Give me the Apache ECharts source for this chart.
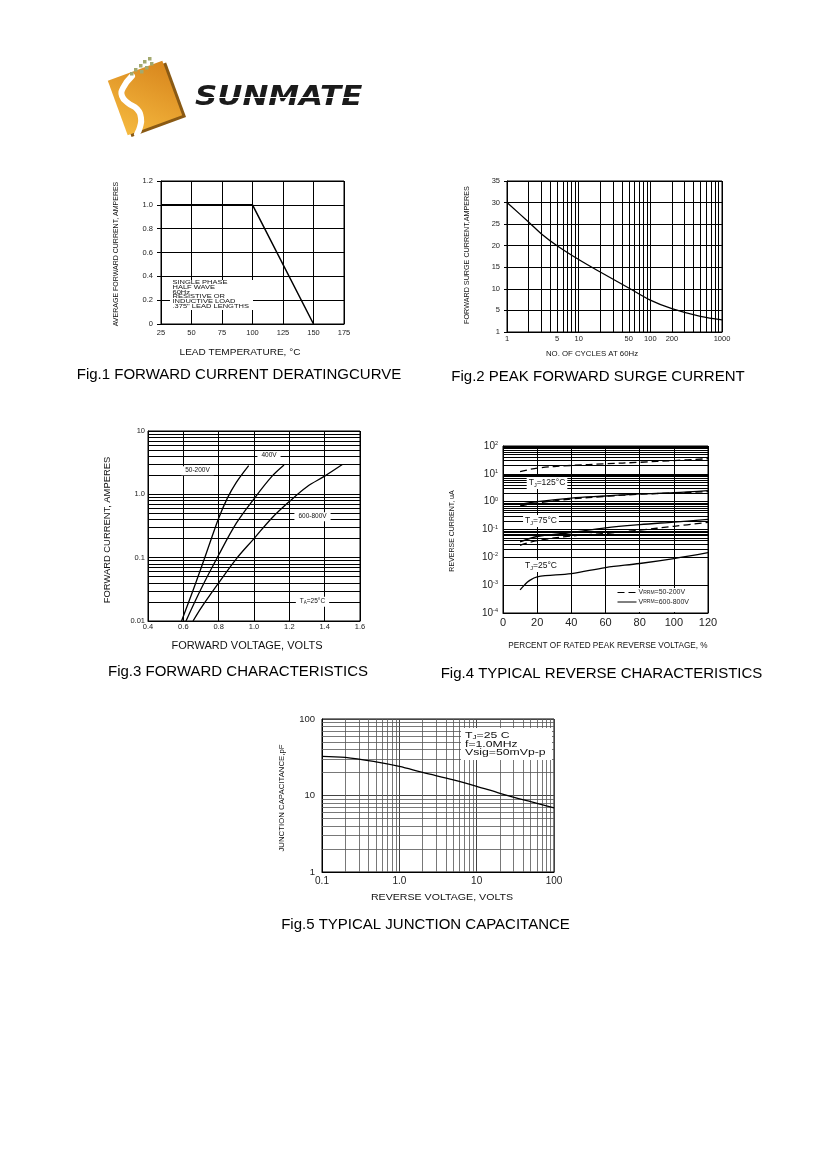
<!DOCTYPE html>
<html>
<head>
<meta charset="utf-8">
<title>Rectifier characteristic curves</title>
<script src="https://cdn.jsdelivr.net/npm/echarts@6.0.0/dist/echarts.min.js"></script>
<style>
html,body{margin:0;padding:0;background:#fff;}
#chart{width:826px;height:1169px;}
</style>
</head>
<body>
<div id="chart"></div>
<script>
// ---------------- data ----------------
// Fig.1 forward current derating
const fig1Temp = [25, 100, 150];
const fig1Current = [1.0, 1.0, 0.0];

// Fig.2 peak forward surge current
const fig2Cycles = [1, 2, 3, 5, 10, 20, 50, 100, 200, 500, 1000];
const fig2Surge = [30, 25.5, 22.8, 20, 16.8, 13.9, 10.2, 7.4, 5.4, 3.6, 2.8];
const fig2XLabels = [1, 5, 10, 50, 100, 200, 1000];

// Fig.3 forward characteristics
const fig3V_50_200 = [0.59, 0.65, 0.70, 0.75, 0.80, 0.85, 0.90, 0.97];
const fig3I_50_200 = [0.01, 0.028, 0.068, 0.17, 0.42, 0.88, 1.55, 2.85];
const fig3V_400 = [0.615, 0.70, 0.80, 0.90, 1.00, 1.10, 1.17];
const fig3I_400 = [0.01, 0.032, 0.11, 0.35, 0.85, 1.9, 2.9];
const fig3V_600_800 = [0.655, 0.70, 0.80, 0.90, 1.00, 1.10, 1.20, 1.30, 1.40, 1.50];
const fig3I_600_800 = [0.01, 0.016, 0.04, 0.096, 0.2, 0.42, 0.77, 1.32, 1.94, 2.95];

// Fig.4 typical reverse characteristics (uA)
const fig4Pct = [10, 20, 40, 60, 80, 100, 120];
const fig4Pct25 = [10, 12.5, 15, 20, 40, 60, 80, 100, 120];
const fig4_125C_50_200 = [12, 16, 20, 23, 26, 30, 35];
const fig4_125C_600_800 = [0.8, 1.0, 1.35, 1.6, 1.9, 2.1, 2.5];
const fig4_75C_50_200 = [0.7, 0.9, 1.25, 1.55, 1.85, 2.05, 2.3];
const fig4_75C_600_800 = [0.036, 0.056, 0.078, 0.115, 0.15, 0.185, 0.23];
const fig4_25C_50_200 = [0.027, 0.04, 0.058, 0.072, 0.095, 0.13, 0.18];
const fig4_25C_600_800 = [0.00068, 0.001, 0.0014, 0.002, 0.0026, 0.0043, 0.006, 0.009, 0.0147];

// Fig.5 typical junction capacitance
const fig5Volts = [0.1, 0.2, 0.5, 1, 2, 5, 10, 20, 50, 100];
const fig5Cap = [32.5, 31.5, 27.5, 24, 20, 16, 13.2, 10.7, 8.3, 6.9];

// log-paper minor grid mantissas
const logMinorMantissas = [2, 3, 4, 5, 6, 7, 8, 9];

// ---------------- helpers ----------------
const FONT = '"Liberation Sans", Arial, sans-serif';
const pair = (xs, ys) => xs.map((x, i) => [x, ys[i]]);

function minorLogValues(fromExp, toExp) {
  const out = [];
  for (let e = fromExp; e < toExp; e++) {
    logMinorMantissas.forEach(m => out.push(+(m * Math.pow(10, e)).toPrecision(6)));
  }
  return out;
}

function gridLines(xs, ys, color, width) {
  return {
    silent: true, symbol: ['none', 'none'], animation: false, z: 1,
    label: { show: false }, emphasis: { disabled: true },
    lineStyle: { color: color, width: width, type: 'solid' },
    data: [].concat(xs.map(v => ({ xAxis: v })), ys.map(v => ({ yAxis: v })))
  };
}

function gridBox(left, top, width, height) {
  return { left, top, width, height, show: true, borderColor: '#000', borderWidth: 1,
    backgroundColor: 'rgba(0,0,0,0)', containLabel: false, outerBoundsMode: 'none' };
}

function axis(gridIndex, type, extra, label, splitColor) {
  const a = {
    gridIndex, type,
    axisLine: { show: true, onZero: false, lineStyle: { color: '#000', width: 1 } },
    axisTick: { show: false },
    splitLine: { show: true, lineStyle: { color: splitColor || '#000', width: 1 } },
    axisLabel: Object.assign({ color: '#222', fontFamily: FONT, fontSize: 7.5, margin: 4,
      showMinLabel: true, showMaxLabel: true, hideOverlap: false }, label || {})
  };
  return Object.assign(a, extra || {});
}

function curve(gi, data, o) {
  o = o || {};
  const s = {
    type: 'line', xAxisIndex: gi, yAxisIndex: gi, data, symbol: 'none', showSymbol: false,
    smooth: o.smooth === undefined ? 0.35 : o.smooth, silent: true, z: 3,
    itemStyle: { color: '#000' },
    lineStyle: { color: '#000', width: o.width || 1.3, type: o.dash || 'solid' },
    emphasis: { disabled: true }
  };
  if (o.name) s.name = o.name;
  if (o.markLine) s.markLine = o.markLine;
  return s;
}

function txt(x, y, text, size, o) {
  o = o || {};
  const style = { text, fill: o.color || '#111', fontSize: size, fontFamily: o.font || FONT,
    fontWeight: o.weight || 'normal', fontStyle: o.fstyle || 'normal',
    align: o.align || 'center', verticalAlign: o.valign || 'middle' };
  if (o.lh) style.lineHeight = o.lh;
  if (o.rich) style.rich = o.rich;
  if (o.bg) { style.backgroundColor = o.bg; style.padding = o.pad || [0, 2]; }
  return { type: 'text', x, y, rotation: o.rot || 0, scaleX: o.sx || 1, scaleY: 1,
    z: o.z || 10, silent: true, style };
}

// rich styles: t = normal run, s = subscript run
const richTS = (size, subSize, lh) => ({
  t: { fontSize: size, fontFamily: FONT, fill: '#111', lineHeight: lh },
  s: { fontSize: subSize, fontFamily: FONT, fill: '#111', verticalAlign: 'bottom', lineHeight: lh }
});
const ROT = Math.PI / 2;

// ---------------- chart ----------------
const chart = echarts.init(document.getElementById('chart'), null, { width: 826, height: 1169 });

const option = {
  animation: false,
  backgroundColor: '#fff',
  textStyle: { fontFamily: FONT },
  grid: [
    gridBox(161, 181, 183, 143),
    gridBox(507, 181, 215, 151),
    gridBox(148, 431, 212, 190),
    gridBox(503, 446, 205, 167),
    gridBox(322, 719, 232, 153)
  ],
  xAxis: [
    axis(0, 'value', { min: 25, max: 175, interval: 25 }, { margin: 5 }),
    axis(1, 'log', { min: 1, max: 1000, logBase: 10 },
      { margin: 3, customValues: fig2XLabels, formatter: v => String(Math.round(v)) }),
    axis(2, 'value', { min: 0.4, max: 1.6, interval: 0.2 },
      { margin: 2, formatter: v => v.toFixed(1) }),
    axis(3, 'value', { min: 0, max: 120, interval: 20 }, { margin: 4, fontSize: 11 }),
    axis(4, 'log', { min: 0.1, max: 100, logBase: 10 },
      { margin: 4, fontSize: 10, formatter: v => v < 0.5 ? '0.1' : v < 5 ? '1.0' : v < 50 ? '10' : '100' }, '#444')
  ],
  yAxis: [
    Object.assign(axis(0, 'value', { min: 0, max: 1.2, interval: 0.2 },
      { margin: 8, formatter: v => v === 0 ? '0' : v.toFixed(1) }),
      { axisTick: { show: true, length: 4, lineStyle: { color: '#000' } } }),
    Object.assign(axis(1, 'value', { min: 0, max: 35, interval: 5 },
      { margin: 7, formatter: v => v === 0 ? '1' : String(v) }),
      { axisTick: { show: true, length: 3, lineStyle: { color: '#000' } } }),
    axis(2, 'log', { min: 0.01, max: 10, logBase: 10 },
      { margin: 3, formatter: v => v > 5 ? '10' : v > 0.5 ? '1.0' : v > 0.05 ? '0.1' : '0.01' }),
    axis(3, 'log', { min: 0.0001, max: 100, logBase: 10 },
      { margin: 5, fontSize: 10,
        formatter: v => '{b|10}{e|' + Math.round(Math.log10(v)) + '}',
        rich: { b: { fontSize: 10, fontFamily: FONT, color: '#222' },
                e: { fontSize: 5.5, fontFamily: FONT, color: '#222', verticalAlign: 'top', padding: [0, 0, 5, 0] } } }),
    axis(4, 'log', { min: 1, max: 100, logBase: 10 },
      { margin: 7, fontSize: 9.5, formatter: v => String(Math.round(v)) }, '#444')
  ],
  legend: {
    show: true, orient: 'vertical', left: 617, top: 589, itemWidth: 19, itemHeight: 7,
    itemGap: 2.5, padding: 0, selectedMode: false, z: 9,
    data: ['VRRM=50-200V', 'VRRM=600-800V'],
    itemStyle: { opacity: 0 },
    lineStyle: { color: '#000', width: 1 },
    formatter: name => '{v|V}{r|RRM}{v|' + name.slice(4) + '}',
    textStyle: { fontSize: 7, color: '#222', fontFamily: FONT, padding: [0, 0, 0, -3],
      rich: { v: { fontSize: 7, fontFamily: FONT, color: '#222' },
              r: { fontSize: 5, fontFamily: FONT, color: '#222' } } }
  },
  series: [
    // Fig.1
    curve(0, pair(fig1Temp, fig1Current), { smooth: false, width: 1.5 }),
    // Fig.2
    curve(1, pair(fig2Cycles, fig2Surge), { width: 1.3,
      markLine: gridLines(minorLogValues(0, 3), [], '#000', 1) }),
    // Fig.3
    curve(2, pair(fig3V_50_200, fig3I_50_200), { width: 1.3,
      markLine: gridLines([], minorLogValues(-2, 1), '#000', 1) }),
    curve(2, pair(fig3V_400, fig3I_400), { width: 1.3 }),
    curve(2, pair(fig3V_600_800, fig3I_600_800), { width: 1.3 }),
    // Fig.4
    curve(3, pair(fig4Pct, fig4_125C_50_200), { name: 'VRRM=50-200V', dash: [7, 4],
      markLine: gridLines([], minorLogValues(-4, 2), '#000', 1) }),
    curve(3, pair(fig4Pct, fig4_125C_600_800), { name: 'VRRM=600-800V' }),
    curve(3, pair(fig4Pct, fig4_75C_50_200), { name: 'VRRM=50-200V', dash: [7, 4] }),
    curve(3, pair(fig4Pct, fig4_75C_600_800), { name: 'VRRM=600-800V' }),
    curve(3, pair(fig4Pct, fig4_25C_50_200), { name: 'VRRM=50-200V', dash: [7, 4] }),
    curve(3, pair(fig4Pct25, fig4_25C_600_800), { name: 'VRRM=600-800V' }),
    // Fig.5
    curve(4, pair(fig5Volts, fig5Cap), { width: 1.3,
      markLine: gridLines(minorLogValues(-1, 2), minorLogValues(0, 2), '#555', 0.8) })
  ],
  graphic: { elements: [
    // ---- logo ----
    { type: 'group', x: 145, y: 98, rotation: 0.35, children: [
      { type: 'rect', z: 5, shape: { x: -26, y: -26, width: 58, height: 58 }, style: { fill: '#8a5a14' } },
      { type: 'rect', z: 6, shape: { x: -29, y: -29, width: 58, height: 58 },
        style: { fill: { type: 'linear', x: 1, y: 0, x2: 0, y2: 1,
          colorStops: [{ offset: 0, color: '#d8861d' }, { offset: 1, color: '#f5b93f' }] } } }
    ] },
    { type: 'polyline', z: 7, silent: true,
      shape: { points: [[132, 76], [123, 88], [122, 96], [128, 103], [137, 109], [141, 118], [140, 127], [137, 134]], smooth: 0.5 },
      style: { stroke: '#fff', lineWidth: 6, lineCap: 'round', fill: null } },
    { type: 'rect', z: 8, shape: { x: 148, y: 57, width: 3.5, height: 3.5 }, style: { fill: '#a3a96f' } },
    { type: 'rect', z: 8, shape: { x: 143, y: 60, width: 3.5, height: 3.5 }, style: { fill: '#a3a96f' } },
    { type: 'rect', z: 8, shape: { x: 150, y: 62, width: 3.5, height: 3.5 }, style: { fill: '#a3a96f' } },
    { type: 'rect', z: 8, shape: { x: 139, y: 64, width: 3.5, height: 3.5 }, style: { fill: '#a3a96f' } },
    { type: 'rect', z: 8, shape: { x: 145, y: 66, width: 3.5, height: 3.5 }, style: { fill: '#a3a96f' } },
    { type: 'rect', z: 8, shape: { x: 134, y: 68, width: 3.5, height: 3.5 }, style: { fill: '#a3a96f' } },
    { type: 'rect', z: 8, shape: { x: 140, y: 70, width: 3.5, height: 3.5 }, style: { fill: '#a3a96f' } },
    { type: 'rect', z: 8, shape: { x: 130, y: 72, width: 3.5, height: 3.5 }, style: { fill: '#a3a96f' } },
    txt(195, 98, 'SUNMATE', 26, { align: 'left', weight: 'bold', fstyle: 'italic', font: '"DejaVu Sans", sans-serif', sx: 1.19, color: '#1b1b1b' }),
    { type: 'line', z: 11, silent: true, shape: { x1: 190, y1: 97.5, x2: 370, y2: 97.5 }, style: { stroke: '#fff', lineWidth: 1.2 } },

    // ---- Fig.1 texts ----
    { type: 'rect', z: 8, silent: true, shape: { x: 170, y: 280, width: 83, height: 30 }, style: { fill: '#fff' } },
    txt(172.5, 280.3, 'SINGLE PHASE\nHALF WAVE\n60Hz\nRESISTIVE OR\nINDUCTIVE LOAD\n.375" LEAD LENGTHS', 5,
      { align: 'left', valign: 'top', lh: 4.8, sx: 1.5 }),
    txt(240, 352.5, 'LEAD TEMPERATURE, °C', 8.5, { sx: 1.18 }),
    txt(116, 254, 'AVERAGE FORWARD CURRENT, AMPERES', 7, { rot: ROT }),
    txt(239, 375, 'Fig.1 FORWARD CURRENT DERATINGCURVE', 15, { color: '#000' }),

    // ---- Fig.2 texts ----
    txt(592, 354, 'NO. OF CYCLES AT 60Hz', 7.8),
    txt(467, 255, 'FORWARD SURGE CURRENT,AMPERES', 7.2, { rot: ROT }),
    txt(598, 377, 'Fig.2 PEAK FORWARD SURGE CURRENT', 15, { color: '#000' }),

    // ---- Fig.3 texts ----
    txt(197.5, 470.7, '50-200V', 6.5, { bg: '#fff', pad: [1, 4] }),
    txt(269, 455.7, '400V', 6.5, { bg: '#fff', pad: [1, 4] }),
    txt(312.5, 516.7, '600-800V', 6.5, { bg: '#fff', pad: [1, 4] }),
    txt(312.5, 601.7, '{t|T}{s|A}{t|=25°C}', 6.5, { bg: '#fff', pad: [1, 4], rich: richTS(6.5, 4.5, 8) }),
    txt(247, 646.5, 'FORWARD VOLTAGE, VOLTS', 10, { sx: 1.1 }),
    txt(107, 530, 'FORWARD CURRENT, AMPERES', 9.4, { rot: ROT }),
    txt(238, 672, 'Fig.3 FORWARD CHARACTERISTICS', 15, { color: '#000' }),

    // ---- Fig.4 texts ----
    { type: 'rect', z: 8, silent: true, shape: { x: 617, y: 588, width: 90, height: 24 }, style: { fill: '#fff' } },
    txt(547, 483, '{t|T}{s|J}{t|=125°C}', 8.5, { bg: '#fff', pad: [1, 2], rich: richTS(8.5, 5.5, 10) }),
    txt(541, 521, '{t|T}{s|J}{t|=75°C}', 8.5, { bg: '#fff', pad: [1, 2], rich: richTS(8.5, 5.5, 10) }),
    txt(541, 566, '{t|T}{s|J}{t|=25°C}', 8.5, { bg: '#fff', pad: [1, 2], rich: richTS(8.5, 5.5, 10) }),
    txt(608, 646, 'PERCENT OF RATED PEAK REVERSE VOLTAGE, %', 8.2),
    txt(452, 531, 'REVERSE CURRENT, uA', 7, { rot: ROT }),
    txt(601.5, 674, 'Fig.4 TYPICAL REVERSE CHARACTERISTICS', 15, { color: '#000' }),

    // ---- Fig.5 texts ----
    { type: 'rect', z: 8, silent: true, shape: { x: 461, y: 728, width: 91, height: 32 }, style: { fill: '#fff' } },
    txt(465, 731.8, '{t|T}{s|J}{t|=25 C}\n{t|f=1.0MHz}\n{t|Vsig=50mVp-p}', 9,
      { align: 'left', valign: 'top', sx: 1.36, rich: richTS(9, 6, 8.3) }),
    txt(442, 898, 'REVERSE VOLTAGE, VOLTS', 9, { sx: 1.18 }),
    txt(282, 798, 'JUNCTION CAPACITANCE,pF', 7.8, { rot: ROT }),
    txt(425.5, 925, 'Fig.5 TYPICAL JUNCTION CAPACITANCE', 15, { color: '#000' })
  ] }
};

chart.setOption(option);
</script>
</body>
</html>
